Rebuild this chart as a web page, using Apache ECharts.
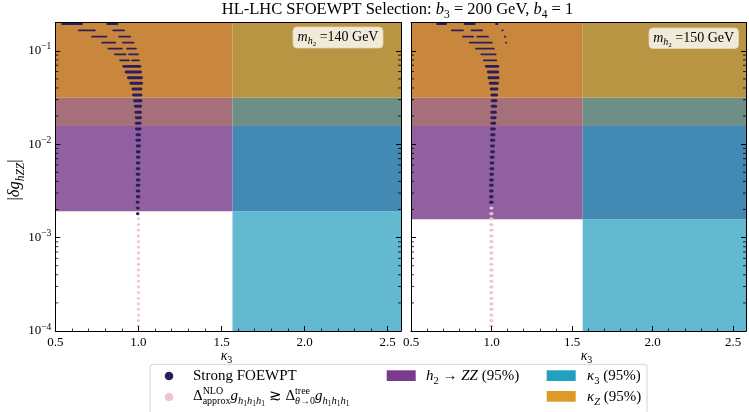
<!DOCTYPE html>
<html><head><meta charset="utf-8">
<script src="https://cdn.jsdelivr.net/npm/echarts@6/dist/echarts.min.js"></script>
<style>html,body{margin:0;padding:0;background:#fff}#c{width:749px;height:412px}</style>
</head><body><div id="c"></div><script>
// ---------- data ----------
const xRange = [0.5, 2.58];
const yRange = [1e-4, 0.2];
const xTickLabels = ['0.5', '1.0', '1.5', '2.0', '2.5'];
const yTickLabels = ['10^-4', '10^-3', '10^-2', '10^-1'];
const kappa3Lower = 1.566;          // kappa3 (95%) excluded for kappa3 above this
const kappaZLower = 0.0157;         // kappaZ (95%) excluded above this |dg|
const zzBandLeft = [0.00192, 0.0314];   // h2->ZZ (95%), m_h2 = 140 GeV
const zzBandRight = [0.00157, 0.0314];  // h2->ZZ (95%), m_h2 = 150 GeV
const panelMasses = [140, 150];
const minorLogTicks = [2e-4,3e-4,4e-4,5e-4,6e-4,7e-4,8e-4,9e-4,
  2e-3,3e-3,4e-3,5e-3,6e-3,7e-3,8e-3,9e-3,
  2e-2,3e-2,4e-2,5e-2,6e-2,7e-2,8e-2,9e-2];

// Strong FOEWPT points: [|dg_hZZ|, kappa3 from, kappa3 to] (runs of scan points in one row)
const leftStrong = [
  [0.1936,0.541,0.661],[0.1936,0.812,0.874],
  [0.1658,0.642,0.738],[0.1658,0.848,0.914],
  [0.1416,0.722,0.808],[0.1416,0.884,0.950],
  [0.1221,0.782,0.860],[0.1221,0.907,0.971],
  [0.1053,0.820,0.900],[0.1053,0.932,0.985],
  [0.0917,0.858,0.923],[0.0917,0.944,0.998],
  [0.0791,0.890,0.944],[0.0791,0.962,1.004],
  [0.0682,0.912,1.009],[0.0593,0.926,1.013],[0.0515,0.940,1.019],
  [0.0449,0.955,1.019],[0.0390,0.967,1.016],[0.0336,0.970,1.015],
  [0.0292,0.976,1.015],[0.02545,0.982,1.013],[0.02195,0.985,1.012],
  [0.01922,0.987,1.013],[0.01674,0.988,1.010],[0.01455,0.988,1.010],
  [0.01264,0.991,1.007],[0.01101,0.991,1.007],[0.00957,0.993,1.007],
  [0.00831,0.993,1.004],[0.00724,0.994,1.003],[0.00629,0.993,1.003],
  [0.00547,0.993,1.003],[0.00476,0.993,1.003],[0.00414,0.993,1.003],
  [0.00363,0.993,1.003],[0.00315,0.993,1.003],[0.00274,0.993,1.003],
  [0.00239,0.993,0.998],[0.00207,0.993,1.000],[0.00180,0.994,0.998]
];
const rightStrong = [
  [0.1936,0.662,0.718],[0.1936,0.833,0.896],[0.1936,1.028,1.037],
  [0.1658,0.753,0.823],[0.1658,0.875,0.942],[0.1658,1.066,1.070],
  [0.1416,0.823,0.886],[0.1416,0.912,0.978],[0.1416,1.082,1.086],
  [0.1221,0.865,1.002],[0.1221,1.090,1.092],
  [0.1053,0.904,1.014],[0.0917,0.936,1.026],[0.0791,0.952,1.030],
  [0.0682,0.968,1.039],[0.0593,0.980,1.039],[0.0515,0.984,1.041],
  [0.0449,0.992,1.037],[0.0390,0.998,1.034],[0.0336,1.002,1.032],
  [0.0292,1.004,1.028],[0.02545,1.004,1.026],[0.02195,1.002,1.024],
  [0.01922,1.002,1.022],[0.01674,1.002,1.020],[0.01455,1.000,1.018],
  [0.01264,1.000,1.016],[0.01101,1.000,1.014],[0.00957,1.000,1.012],
  [0.00831,1.000,1.012],[0.00724,0.998,1.010],[0.00629,0.998,1.008],
  [0.00547,0.996,1.008],[0.00476,0.996,1.006],[0.00414,0.994,1.006],
  [0.00363,0.994,1.004],[0.00315,0.994,1.004],[0.00274,0.994,1.004],
  [0.00239,0.994,1.004]
];
// NLO-approx points: [|dg_hZZ|, kappa3 from, kappa3 to]
const leftNLO = [
  [0.00159,0.999,1.001],[0.00138,0.999,1.001],[0.00120,0.999,1.001],[0.00104,0.999,1.001],
  [0.000904,0.999,1.001],[0.000787,0.999,1.001],[0.000684,0.999,1.001],[0.000594,0.999,1.001],
  [0.000518,0.999,1.001],[0.000450,0.999,1.001],[0.000391,0.999,1.001],[0.000340,0.999,1.001],
  [0.000296,0.999,1.001],[0.000257,0.999,1.001],[0.000224,0.999,1.001],[0.000195,0.999,1.001],
  [0.000171,0.999,1.001],[0.000148,0.999,1.001],[0.000129,0.999,1.001],[0.000113,0.999,1.001]
];
const rightNLO = [
  [0.00207,0.995,1.003],[0.00180,0.995,1.003],
  [0.00159,0.995,1.003],[0.00138,0.995,1.003],[0.00120,0.995,1.003],[0.00104,0.995,1.003],
  [0.000904,0.995,1.003],[0.000787,0.995,1.003],[0.000684,0.995,1.003],[0.000594,0.995,1.003],
  [0.000518,0.995,1.003],[0.000450,0.995,1.003],[0.000391,0.995,1.003],[0.000340,0.995,1.003],
  [0.000296,0.995,1.003],[0.000257,0.995,1.003],[0.000224,0.995,1.003],[0.000195,0.995,1.003],
  [0.000171,0.995,1.003],[0.000148,0.995,1.003],[0.000129,0.995,1.003],[0.000113,0.995,1.003]
];

// ---------- styles ----------
const SERIF = 'Liberation Serif, serif';
const NAVY = '#2B1E5E', PINK = '#F5C2CB';
// region colours by membership bits: kappa3*4 + ZZ*2 + kappaZ
const regionColors = [null, '#C8873C', '#9160A0', '#A5707A', '#63B9CF', '#B89542', '#4289B4', '#6E8F88'];

const mctx = document.createElement('canvas').getContext('2d');
function measure(t, s, it) { mctx.font = (it ? 'italic ' : 'normal ') + 'normal ' + s + 'px ' + SERIF; return mctx.measureText(t).width; }
function mathEls(tokens, x0, baseY, align, fill) {
  const placed = []; let x = 0, sx = 0, supW = 0, subW = 0, mode = false;
  const flush = () => { if (mode) { x = sx + Math.max(supW, subW); mode = false; } };
  for (const tk of tokens) {
    const w = measure(tk.t, tk.s, tk.it);
    if (tk.st) {
      if (!mode) { sx = x; supW = 0; subW = 0; mode = true; }
      if (tk.st === 'a') { placed.push([tk, sx + supW]); supW += w; }
      else { placed.push([tk, sx + subW]); subW += w; }
    } else { flush(); placed.push([tk, x]); x += w; }
  }
  flush();
  const off = align === 'center' ? -x / 2 : (align === 'right' ? -x : 0);
  return placed.map(([tk, px]) => ({
    type: 'text', x: x0 + px + off, y: baseY + (tk.dy || 0) - 0.34 * tk.s, silent: true, z: 100,
    style: { text: tk.t, fontSize: tk.s, fontFamily: SERIF, fontStyle: tk.it ? 'italic' : 'normal',
      fill: fill || '#000', align: 'left', verticalAlign: 'middle', textAlign: 'left', textVerticalAlign: 'middle' }
  }));
}

function buildCells(zz) {
  const xs = [xRange[0], kappa3Lower, xRange[1]];
  const ys = [yRange[0], zz[0], kappaZLower, zz[1], yRange[1]].sort((a, b) => a - b);
  const cells = [];
  for (let i = 0; i < 2; i++) for (let j = 0; j < 4; j++) {
    const xm = (xs[i] + xs[i + 1]) / 2, ym = Math.sqrt(ys[j] * ys[j + 1]);
    const idx = (xm >= kappa3Lower ? 4 : 0) + (ym >= zz[0] && ym <= zz[1] ? 2 : 0) + (ym >= kappaZLower ? 1 : 0);
    if (idx) cells.push([xs[i], xs[i + 1], ys[j], ys[j + 1], idx]);
  }
  return cells;
}

function bandSeries(gi, zz) {
  return { type: 'custom', xAxisIndex: gi, yAxisIndex: gi, clip: true, z: 1, silent: true,
    encode: { x: [0, 1], y: [2, 3] }, data: buildCells(zz),
    renderItem(p, api) {
      const a = api.coord([api.value(0), api.value(3)]), b = api.coord([api.value(1), api.value(2)]);
      return { type: 'rect', shape: { x: a[0], y: a[1], width: b[0] - a[0], height: b[1] - a[1] },
        style: { fill: regionColors[api.value(4)] } };
    } };
}
function segSeries(gi, data, color, w) {
  return { type: 'custom', xAxisIndex: gi, yAxisIndex: gi, clip: true, z: 3, silent: true,
    encode: { x: [1, 2], y: 0 }, data,
    renderItem(p, api) {
      const d = api.value(0);
      const a = api.coord([api.value(1), d]), b = api.coord([api.value(2), d]);
      const lw = w || (d > 0.075 ? 1.8 : 2.9);
      return { type: 'line', shape: { x1: a[0], y1: a[1], x2: b[0], y2: b[1] },
        style: { stroke: color, lineWidth: lw, lineCap: 'round' } };
    } };
}
function minorSeries(gi) {
  return { type: 'custom', xAxisIndex: gi, yAxisIndex: gi, clip: false, z: 20, silent: true,
    encode: { x: 0, y: 1 }, data: minorLogTicks.map(v => [xRange[0], v]),
    renderItem(p, api) {
      const v = api.value(1);
      const l = api.coord([xRange[0], v]), r = api.coord([xRange[1], v]);
      return { type: 'group', children: [
        { type: 'line', shape: { x1: l[0], y1: l[1], x2: l[0] + 3, y2: l[1] }, style: { stroke: '#000', lineWidth: 0.8 } },
        { type: 'line', shape: { x1: r[0] - 3, y1: r[1], x2: r[0], y2: r[1] }, style: { stroke: '#000', lineWidth: 0.8 } }
      ] };
    } };
}

const grids = [
  { left: 55.3, top: 22.7, width: 345.7, height: 308.3 },
  { left: 411, top: 22.7, width: 344.4, height: 308.3 }
];
const axisLine = { show: true, onZero: false, lineStyle: { color: '#000', width: 1 } };
function xAx(gi, pos) {
  return { gridIndex: gi, type: 'value', min: xRange[0], max: xRange[1], interval: 0.5, position: pos, z: 10,
    axisLine, splitLine: { show: false },
    axisTick: { show: pos === 'bottom', inside: true, length: 5, lineStyle: { color: '#000', width: 1 } },
    minorTick: { show: pos === 'bottom', splitNumber: 5, length: 2.5, lineStyle: { color: '#000', width: 0.8 } },
    axisLabel: { show: pos === 'bottom', margin: 5, fontFamily: SERIF, fontSize: 13, color: '#000', showMinLabel: true,
      formatter: v => { const i = xTickLabels.indexOf(v.toFixed(1)); return (i >= 0 && Math.abs(v * 2 - Math.round(v * 2)) < 1e-9) ? xTickLabels[i] : ''; } } };
}
function yAx(gi, pos) {
  return { gridIndex: gi, type: 'log', logBase: 10, min: yRange[0], max: yRange[1], position: pos, z: 10,
    axisLine, splitLine: { show: false },
    axisTick: { show: true, inside: true, length: 5, lineStyle: { color: '#000', width: 1 } },
    axisLabel: { show: pos === 'left' && gi === 0, margin: 4, showMinLabel: true, showMaxLabel: true,
      formatter: v => {
        const e = Math.log10(v), n = Math.round(e);
        if (Math.abs(e - n) > 1e-6) return '';
        const lab = yTickLabels.find(s => s === '10^' + n);
        if (!lab) return '';
        return '{b|10}{e|' + lab.split('^')[1].replace('-', '\u2212') + '}';
      },
      rich: { b: { fontFamily: SERIF, fontSize: 13, color: '#000' },
              e: { fontFamily: SERIF, fontSize: 9.5, color: '#000', padding: [0, 0, 8, 0] } } } };
}

// ---------- text / legend graphics ----------
const g = [];
g.push(...mathEls([
  { t: 'HL-LHC SFOEWPT Selection: ', s: 16.5 }, { t: 'b', s: 16.5, it: true }, { t: '3', s: 11.5, dy: 3 },
  { t: ' = 200 GeV, ', s: 16.5 }, { t: 'b', s: 16.5, it: true }, { t: '4', s: 11.5, dy: 3 }, { t: ' = 1', s: 16.5 }
], 397.5, 15.5, 'center'));
// x axis names
[226.5, 586.5].forEach(cx => g.push(...mathEls([{ t: '\u03ba', s: 14, it: true }, { t: '3', s: 10, dy: 3 }], cx, 361, 'center')));
// y axis name
g.push({ type: 'group', x: 15, y: 180, rotation: Math.PI / 2, children: mathEls([
  { t: '|', s: 16.5 }, { t: '\u03b4g', s: 16.5, it: true }, { t: 'hZZ', s: 11.5, it: true, dy: 4 }, { t: '|', s: 16.5 }
], 0, 5.5, 'center') });
// mass annotation boxes
const boxes = [{ x: 293, y: 27, w: 90, h: 21, cx: 338 }, { x: 649, y: 28, w: 89.5, h: 20.5, cx: 693.7 }];
boxes.forEach((b, i) => {
  g.push({ type: 'rect', z: 90, silent: true, shape: { x: b.x, y: b.y, width: b.w, height: b.h, r: 4 },
    style: { fill: '#F2EAD9', stroke: '#E2D5BC', lineWidth: 0.8 } });
  g.push(...mathEls([{ t: 'm', s: 14, it: true }, { t: 'h', s: 10, it: true, dy: 3 }, { t: '2', s: 7, dy: 5 },
    { t: ' =' + panelMasses[i] + ' GeV', s: 14 }], b.cx, b.y + 15, 'center'));
});
// legend
g.push({ type: 'rect', z: 90, silent: true, shape: { x: 150, y: 364.3, width: 497, height: 52, r: 3 },
  style: { fill: '#fff', stroke: '#d4d4d4', lineWidth: 1 } });
g.push({ type: 'circle', z: 95, shape: { cx: 169, cy: 376, r: 4.3 }, style: { fill: NAVY } });
g.push({ type: 'circle', z: 95, shape: { cx: 169, cy: 397, r: 4.3 }, style: { fill: PINK } });
g.push(...mathEls([{ t: 'Strong FOEWPT', s: 15 }], 193, 381));
const gsub = [{ t: 'g', s: 15, it: true }, { t: 'h', s: 10.5, it: true, dy: 3.5 }, { t: '1', s: 7.5, dy: 5.5 },
  { t: 'h', s: 10.5, it: true, dy: 3.5 }, { t: '1', s: 7.5, dy: 5.5 }, { t: 'h', s: 10.5, it: true, dy: 3.5 }, { t: '1', s: 7.5, dy: 5.5 }];
g.push(...mathEls([
  { t: '\u0394', s: 15 }, { t: 'NLO', s: 10, dy: -7, st: 'a' }, { t: 'approx', s: 10, dy: 3.5, st: 'b' },
  ...gsub, { t: ' \u2273 ', s: 15 },
  { t: '\u0394', s: 15 }, { t: 'tree', s: 10, dy: -7, st: 'a' }, { t: '\u03b8', s: 10, it: true, dy: 3.5, st: 'b' }, { t: '\u21920', s: 10, dy: 3.5, st: 'b' },
  ...gsub
], 193, 401.5));
const patches = [
  { x: 386.7, y: 370.3, c: '#7A3A8E' }, { x: 546.7, y: 370.3, c: '#22A0C0' }, { x: 546.7, y: 391, c: '#DD9A28' }
];
patches.forEach(p => g.push({ type: 'rect', z: 95, shape: { x: p.x, y: p.y, width: 29, height: 10.7 }, style: { fill: p.c } }));
g.push(...mathEls([{ t: 'h', s: 15, it: true }, { t: '2', s: 10.5, dy: 3.5 }, { t: ' \u2192 ', s: 15 }, { t: 'ZZ', s: 15, it: true }, { t: ' (95%)', s: 15 }], 426, 381));
g.push(...mathEls([{ t: '\u03ba', s: 15, it: true }, { t: '3', s: 10.5, dy: 3.5 }, { t: ' (95%)', s: 15 }], 587, 381));
g.push(...mathEls([{ t: '\u03ba', s: 15, it: true }, { t: 'Z', s: 10.5, it: true, dy: 3.5 }, { t: ' (95%)', s: 15 }], 587, 402));

const chart = echarts.init(document.getElementById('c'), null, { renderer: 'canvas' });
chart.setOption({
  animation: false, backgroundColor: '#fff',
  grid: grids,
  xAxis: [xAx(0, 'bottom'), xAx(1, 'bottom'), xAx(0, 'top'), xAx(1, 'top')],
  yAxis: [yAx(0, 'left'), yAx(1, 'left'), yAx(0, 'right'), yAx(1, 'right')],
  series: [
    bandSeries(0, zzBandLeft), bandSeries(1, zzBandRight),
    segSeries(0, leftNLO, PINK, 2.8), segSeries(1, rightNLO, PINK, 2.8),
    segSeries(0, leftStrong, NAVY), segSeries(1, rightStrong, NAVY),
    minorSeries(0), minorSeries(1)
  ],
  graphic: { elements: g }
});
</script></body></html>
